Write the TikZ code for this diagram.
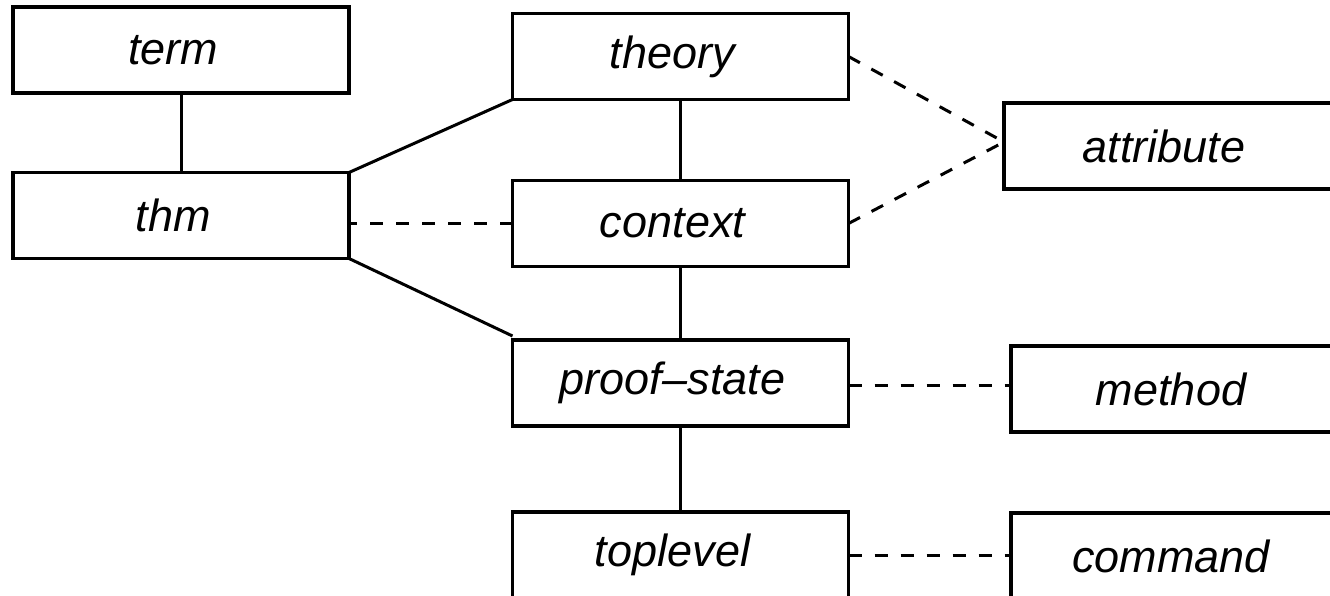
\documentclass[tikz,border=0pt]{standalone}
\usepackage{fontspec}
\setmainfont{Liberation Sans}
\begin{document}
\begin{tikzpicture}[x=1pt,y=-1pt,
  box/.style={draw,line width=3.4pt,rectangle,minimum width=336pt,minimum height=86pt,inner sep=0pt,outer sep=0pt,
    font=\fontsize{45}{50}\selectfont\itshape,execute at begin node={\hspace*{-16pt}}},
  solidline/.style={line width=3pt},
  dashline/.style={line width=3pt,dash pattern=on 13pt off 13pt}]
\useasboundingbox (0,0) rectangle (1330,596);
\clip (0,0) rectangle (1330,596);
\fill[white] (0,0) rectangle (1330,596);
\node[box] (term) at (181,50) {term};
\node[box] (thm) at (181,215.5) {thm};
\node[box] (theory) at (680.5,56.5) {theory};
\node[box] (context) at (680.5,223.5) {context};
\node[box] (proof) at (680.5,383) {proof–state};
\node[box] (toplevel) at (680.5,555) {toplevel};
\node[box] (attribute) at (1172,146) {attribute};
\node[box] (method) at (1179,389) {method};
\node[box] (command) at (1179,556) {command};
\coordinate (attin) at ([yshift=4pt]attribute.west);
\draw[solidline] (term) -- (thm);
\draw[solidline] (theory) -- (context);
\draw[solidline] (context) -- (proof);
\draw[solidline] (proof) -- (toplevel);
\draw[solidline] (thm.north east) -- (theory.south west);
\draw[solidline] (thm.south east) -- ([yshift=4pt]proof.north west);
\draw[dashline] (context.west) -- (context.west -| thm.east);
\draw[dashline] ([yshift=-2pt]proof.east) -- ([yshift=-2pt]proof.east -| method.west);
\draw[dashline] (toplevel.east) -- (toplevel.east -| command.west);
\draw[dashline] (theory.east) -- (attin);
\draw[dashline] (context.east) -- (attin);
\end{tikzpicture}
\end{document}
